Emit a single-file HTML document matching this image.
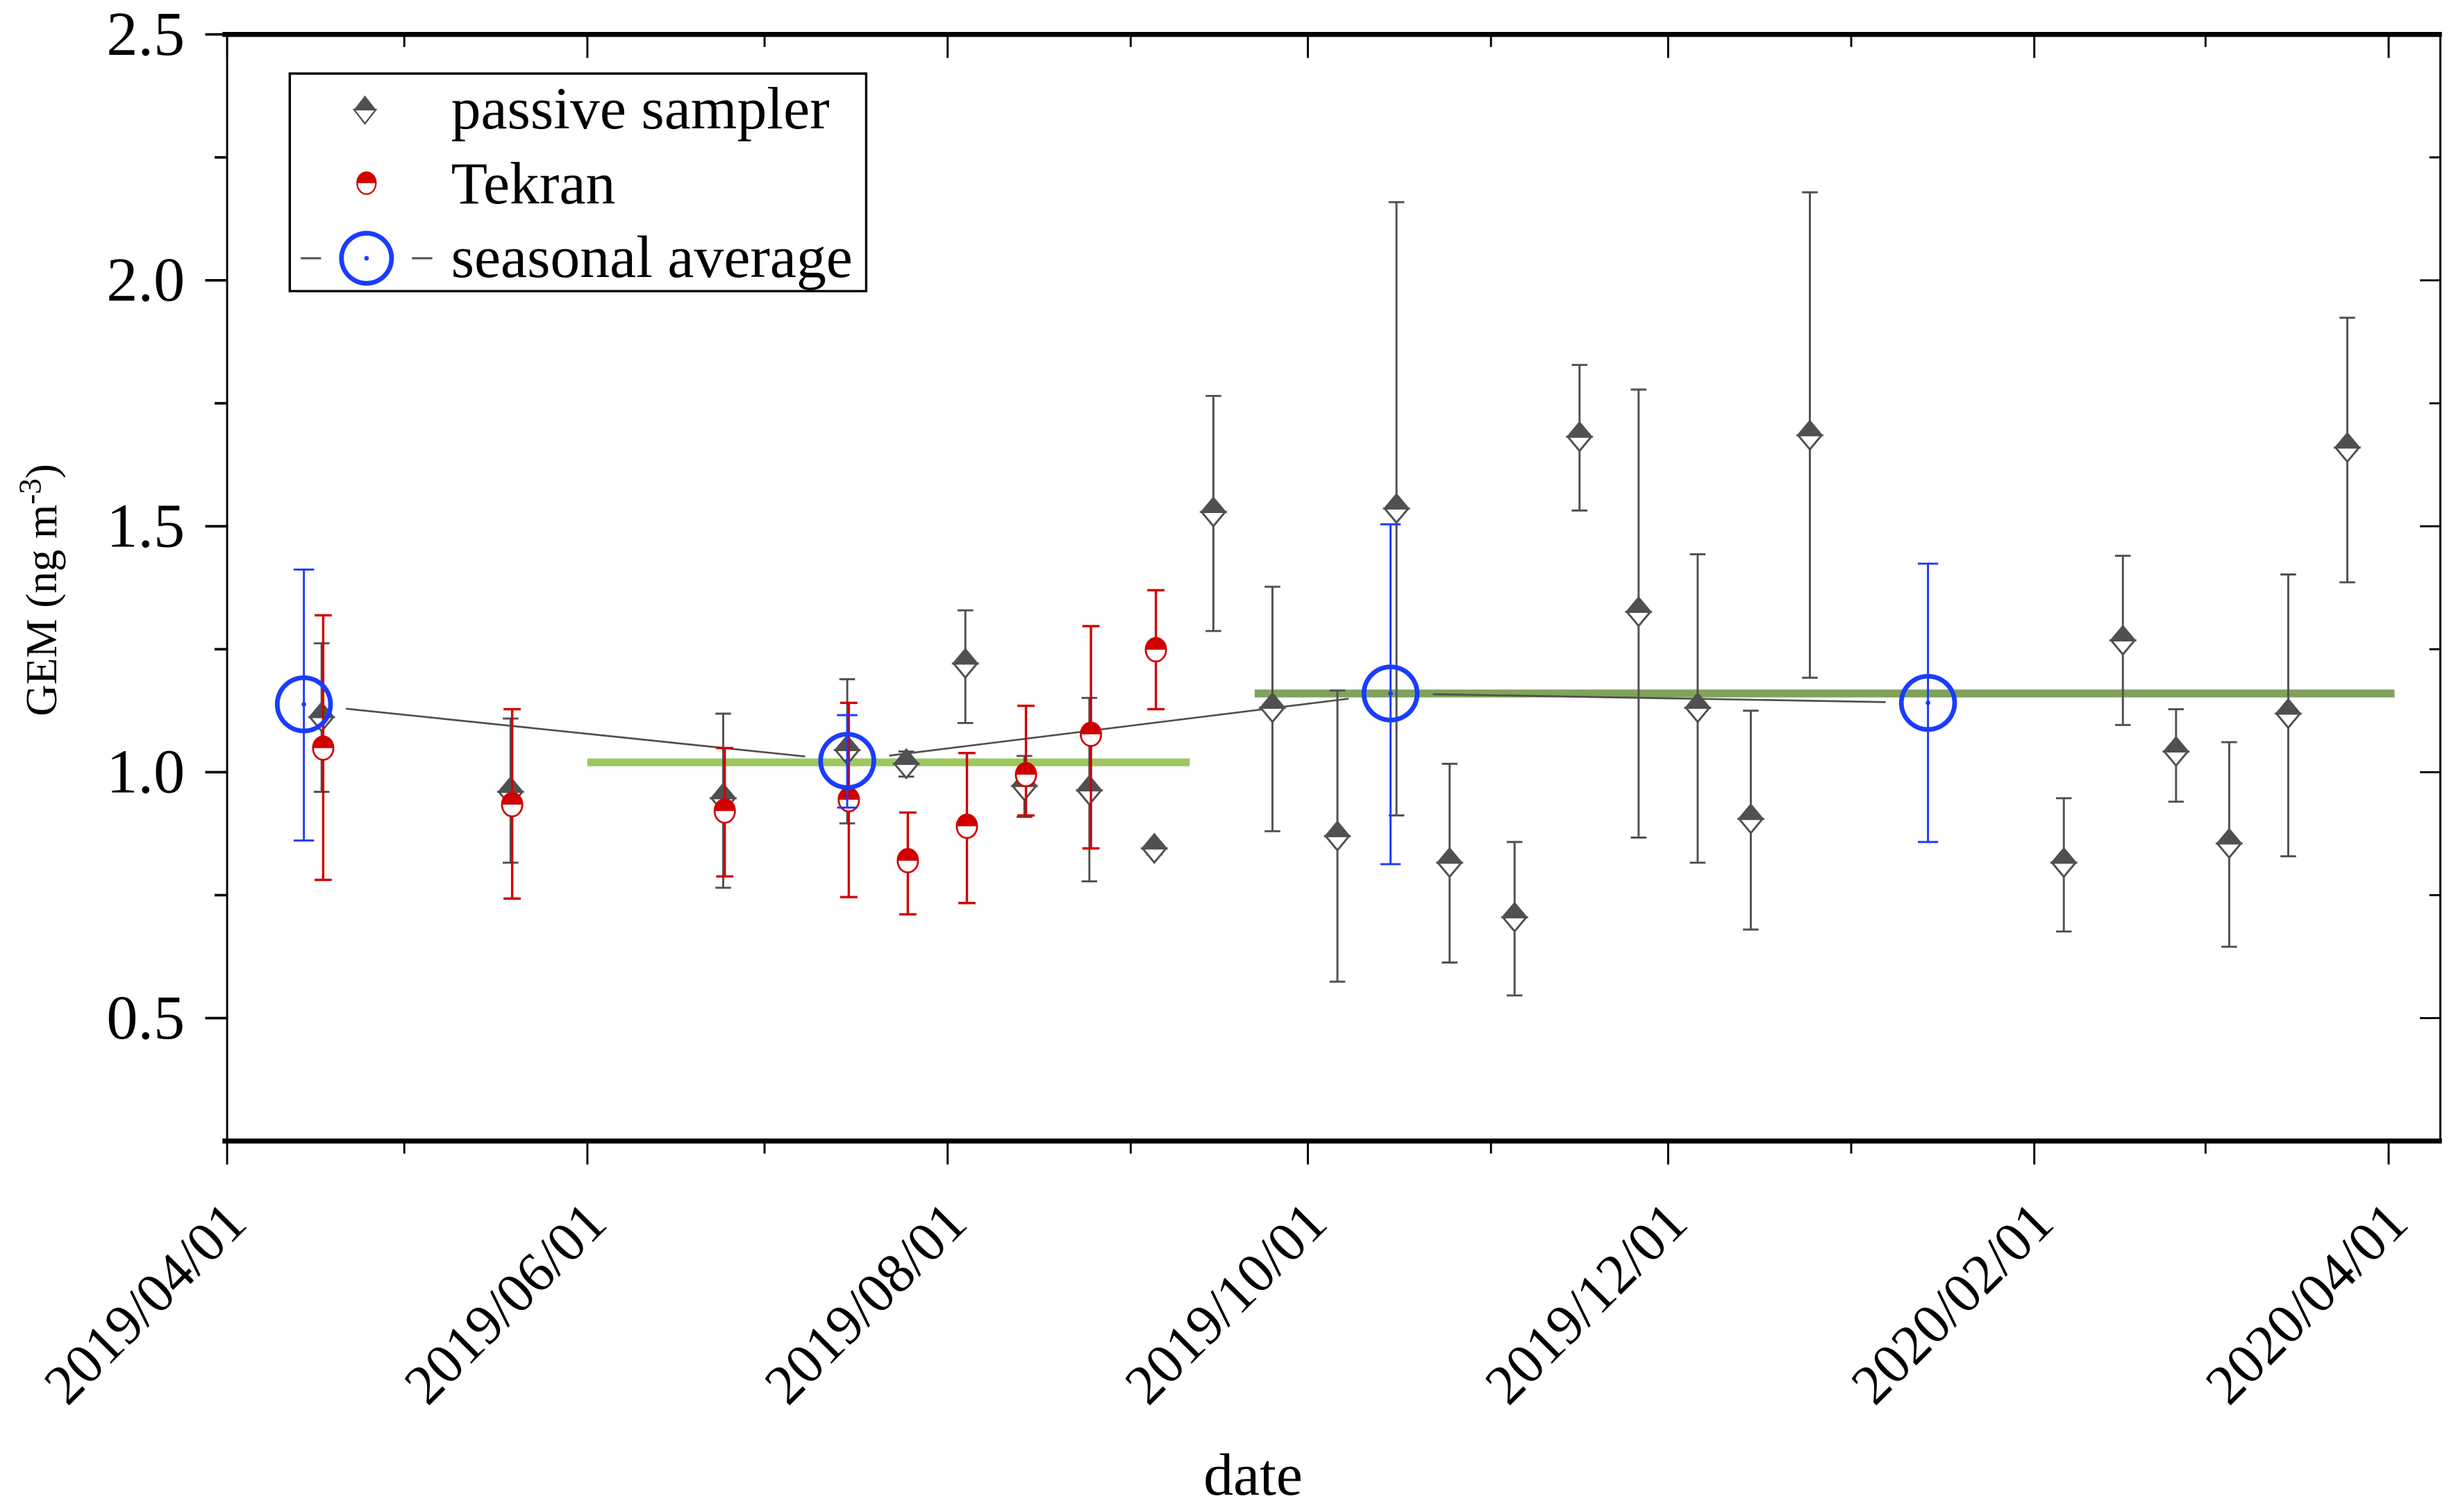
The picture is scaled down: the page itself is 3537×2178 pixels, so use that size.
<!DOCTYPE html>
<html><head><meta charset="utf-8"><title>GEM chart</title>
<style>html,body{margin:0;padding:0;background:#fff}svg{display:block;font-family:"Liberation Serif","DejaVu Serif",serif}svg text{font-family:"Liberation Serif","DejaVu Serif",serif}</style></head>
<body>
<svg id="chart" xmlns="http://www.w3.org/2000/svg" width="3537" height="2178" viewBox="0 0 1568 966" preserveAspectRatio="none">
</svg>
<script>
// ---- data ----
const passiveDates = ["2019-04-17","2019-05-19","2019-06-24","2019-07-15","2019-07-25","2019-08-04","2019-08-14","2019-08-25","2019-09-05","2019-09-15","2019-09-25","2019-10-06","2019-10-16","2019-10-25","2019-11-05","2019-11-16","2019-11-26","2019-12-06","2019-12-15","2019-12-25","2020-02-06","2020-02-16","2020-02-25","2020-03-05","2020-03-15","2020-03-25"];
const passiveValues = [1.112,0.960,0.947,1.045,1.017,1.221,0.972,0.963,0.845,1.529,1.131,0.870,1.536,0.816,0.705,1.682,1.326,1.131,0.905,1.685,0.816,1.268,1.042,0.855,1.119,1.660];
const passiveHigh = [1.262,1.109,1.119,1.189,1.042,1.329,1.033,1.151,0.855,1.765,1.377,1.166,2.159,1.017,0.858,1.828,1.778,1.443,1.125,2.179,0.947,1.440,1.128,1.061,1.402,1.924];
const passiveLow = [0.960,0.816,0.765,0.896,0.991,1.100,0.909,0.778,0.832,1.287,0.880,0.574,0.912,0.613,0.546,1.532,0.867,0.816,0.680,1.192,0.676,1.096,0.940,0.645,0.829,1.386];
const tekranDates = ["2019-04-17","2019-05-19","2019-06-24","2019-07-15","2019-07-25","2019-08-04","2019-08-14","2019-08-25","2019-09-05"];
const tekranValues = [1.049,0.934,0.921,0.944,0.820,0.890,0.995,1.077,1.249];
const tekranHigh = [1.319,1.128,1.049,1.141,0.918,1.039,1.135,1.297,1.370];
const tekranLow = [0.781,0.743,0.788,0.746,0.711,0.734,0.912,0.845,1.128];
const seasonDates = ["2019-04-14","2019-07-15","2019-10-15","2020-01-14"];
const seasonValues = [1.138,1.023,1.160,1.141];
const seasonHigh = [1.412,1.116,1.504,1.424];
const seasonLow = [0.861,0.928,0.813,0.858];
const bandStarts = ["2019-06-01","2019-09-22"];
const bandEnds = ["2019-09-11","2020-04-02"];
const bandValues = [1.02,1.16];
const xTickLabels = ["2019/04/01","2019/06/01","2019/08/01","2019/10/01","2019/12/01","2020/02/01","2020/04/01"];
const xMinorTicks = ["2019/05/01","2019/07/01","2019/09/01","2019/11/01","2020/01/01","2020/03/01"];
const yTickLabels = ["0.5","1.0","1.5","2.0","2.5"];
const yMinorTicks = [0.75,1.25,1.75,2.25];

// ---- axes ----
const L=145,R=1558,T=22,B=729;
const d0=Date.UTC(2019,3,1), d1=Date.UTC(2020,3,1);
const X0=145,X1=1525;
function parseD(s){const p=s.split(/[-\/]/).map(Number);return Date.UTC(p[0],p[1]-1,p[2]);}
function xs(s){return X0+(parseD(s)-d0)/(d1-d0)*(X1-X0);}
function ys(v){return T+(2.5-v)/2.25*(B-T);}
const svg=document.getElementById('chart');
const NS='http://www.w3.org/2000/svg';
function mk(tag,attrs,parent){const e=document.createElementNS(NS,tag);for(const k in attrs)e.setAttribute(k,attrs[k]);(parent||svg).appendChild(e);return e;}

// green bands
bandValues.forEach((v,i)=>{
  const r=mk('line',{x1:xs(bandStarts[i]),x2:xs(bandEnds[i]),y1:ys(v),y2:ys(v),stroke:i===0?'#9dc85e':'#7fa35a','stroke-width':5});
  
  
});

// seasonal connecting line with gaps
for(let i=0;i<seasonValues.length-1;i++){
  const ax=xs(seasonDates[i]),ay=ys(seasonValues[i]),bx=xs(seasonDates[i+1]),by=ys(seasonValues[i+1]);
  const dx=bx-ax,dy=by-ay,len=Math.hypot(dx,dy),g=27;
  const l=mk('line',{x1:ax+dx/len*g,y1:ay+dy/len*g,x2:bx-dx/len*g,y2:by-dy/len*g,stroke:'#505050','stroke-width':1.2});
  
  
}

function errBar(x,hi,lo,color,cap,w,name){
  const g=mk('g',{stroke:color,'stroke-width':w});
  
  
  mk('line',{x1:x,x2:x,y1:ys(hi),y2:ys(lo)},g);
  mk('line',{x1:x-cap,x2:x+cap,y1:ys(hi),y2:ys(hi)},g);
  mk('line',{x1:x-cap,x2:x+cap,y1:ys(lo),y2:ys(lo)},g);
}
// passive
passiveValues.forEach((v,i)=>{
  const x=xs(passiveDates[i]),y=ys(v);
  errBar(x,passiveHigh[i],passiveLow[i],'#505050',5,1.3,'passive-error-bar');
  const g=mk('g',{});
  
  
  mk('path',{d:`M${x-7.5},${y} L${x},${y+9} L${x+7.5},${y} Z`,fill:'#fff',stroke:'#505050','stroke-width':1.3},g);
  mk('path',{d:`M${x-7.5},${y} L${x},${y-9} L${x+7.5},${y} Z`,fill:'#505050',stroke:'#505050','stroke-width':1.3},g);
});
// tekran
tekranValues.forEach((v,i)=>{
  const x=xs(tekranDates[i])+1,y=ys(v);
  errBar(x,tekranHigh[i],tekranLow[i],'#d00000',5.5,1.5,'tekran-error-bar');
  const g=mk('g',{});
  
  
  mk('ellipse',{cx:x,cy:y,rx:6.5,ry:7.5,fill:'#fff',stroke:'#d00000','stroke-width':1.2},g);
  mk('path',{d:`M${x-6.5},${y} A6.5,7.5 0 0 1 ${x+6.5},${y} Z`,fill:'#d00000'},g);
});
// seasonal average
seasonValues.forEach((v,i)=>{
  const x=xs(seasonDates[i]),y=ys(v);
  errBar(x,seasonHigh[i],seasonLow[i],'#1a3cff',6.5,1.3,'seasonal-error-bar');
  const g=mk('g',{});
  
  
  mk('circle',{cx:x,cy:y,r:17,fill:'none',stroke:'#1a3cff','stroke-width':3},g);
  mk('circle',{cx:x,cy:y,r:1.5,fill:'#1a3cff'},g);
});

// frame
const fr=mk('g',{stroke:'#000'});


mk('line',{x1:L,x2:L,y1:T,y2:B,'stroke-width':1.3},fr);
mk('line',{x1:R,x2:R,y1:T,y2:B,'stroke-width':1.3},fr);
mk('line',{x1:L-3,x2:R+1,y1:T,y2:T,'stroke-width':3.2},fr);
mk('line',{x1:L-3,x2:R+1,y1:B,y2:B,'stroke-width':3.2},fr);

// x ticks
xTickLabels.forEach(s=>{
  const x=xs(s);
  const t=mk('line',{x1:x,x2:x,y1:B,y2:B+15,stroke:'#000','stroke-width':1.3});
  
  
  mk('line',{x1:x,x2:x,y1:T,y2:T+15,stroke:'#000','stroke-width':1.3});
  const lb=mk('text',{x:0,y:0,'font-size':36,'text-anchor':'end',transform:`translate(${x+14},${B+54}) rotate(-45)`});
  lb.textContent=s;
  
  
});
xMinorTicks.forEach(s=>{
  const x=xs(s);
  const t=mk('line',{x1:x,x2:x,y1:B,y2:B+8,stroke:'#000','stroke-width':1.3});
  
  
  mk('line',{x1:x,x2:x,y1:T,y2:T+8,stroke:'#000','stroke-width':1.3});
});
// y ticks
yTickLabels.forEach(s=>{
  const y=ys(parseFloat(s));
  const t=mk('line',{x1:L-14,x2:L,y1:y,y2:y,stroke:'#000','stroke-width':1.6});
  
  
  mk('line',{x1:R-13,x2:R,y1:y,y2:y,stroke:'#000','stroke-width':1.3});
  const lb=mk('text',{x:118,y:y+13,'font-size':40,'text-anchor':'end'});
  lb.textContent=s;
  
  
});
yMinorTicks.forEach(v=>{
  const y=ys(v);
  const t=mk('line',{x1:L-8,x2:L,y1:y,y2:y,stroke:'#000','stroke-width':1.6});
  
  
  mk('line',{x1:R-7,x2:R,y1:y,y2:y,stroke:'#000','stroke-width':1.3});
});
</script>
<script>
(function(){
const svg=document.getElementById('chart');const NS='http://www.w3.org/2000/svg';
function mk(tag,attrs,parent){const e=document.createElementNS(NS,tag);for(const k in attrs)e.setAttribute(k,attrs[k]);(parent||svg).appendChild(e);return e;}
const xt=mk('text',{x:800,y:955,'font-size':38,'text-anchor':'middle'});
xt.textContent='date';


const yt=mk('text',{x:0,y:0,'font-size':28,'text-anchor':'middle',transform:'translate(36,377) rotate(-90)'});
yt.innerHTML='GEM (ng m<tspan dy="-10" font-size="20">-3</tspan><tspan dy="10">)</tspan>';


// legend
const lg=mk('g',{});


mk('rect',{x:185,y:47,width:368,height:139,fill:'#fff',stroke:'#000','stroke-width':1.5},lg);
const e1=mk('g',{},lg);


mk('path',{d:'M226,70 L233,79 L240,70 Z',fill:'#fff',stroke:'#505050','stroke-width':1},e1);
mk('path',{d:'M226,70 L233,61 L240,70 Z',fill:'#505050'},e1);
const t1=mk('text',{x:288,y:82,'font-size':38},e1);t1.textContent='passive sampler';
const e2=mk('g',{},lg);


mk('ellipse',{cx:234,cy:117,rx:6,ry:7,fill:'#fff',stroke:'#d00000','stroke-width':1},e2);
mk('path',{d:'M228,117 A6,7 0 0 1 240,117 Z',fill:'#d00000'},e2);
const t2=mk('text',{x:288,y:130,'font-size':38},e2);t2.textContent='Tekran';
const e3=mk('g',{},lg);


mk('line',{x1:192,x2:205,y1:165,y2:165,stroke:'#505050','stroke-width':1.3},e3);
mk('line',{x1:263,x2:276,y1:165,y2:165,stroke:'#505050','stroke-width':1.3},e3);
mk('circle',{cx:234,cy:165,r:16,fill:'none',stroke:'#1a3cff','stroke-width':3},e3);
mk('circle',{cx:234,cy:165,r:1.5,fill:'#1a3cff'},e3);
const t3=mk('text',{x:288,y:177,'font-size':38},e3);t3.textContent='seasonal average';
})();
</script>
</body></html>
